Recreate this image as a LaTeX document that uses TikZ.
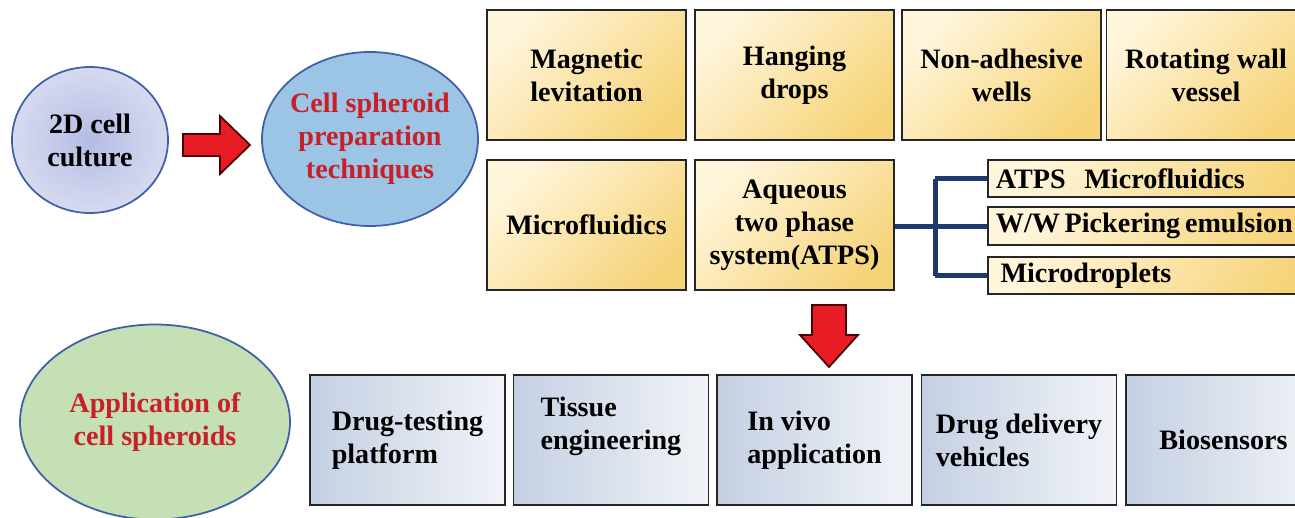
\documentclass[tikz,border=0pt]{standalone}
\usepackage{fontspec}
\setmainfont{Liberation Serif}
\usepackage{tikz}
\usetikzlibrary{shapes.geometric}

\definecolor{yelA}{RGB}{255,245,218}
\definecolor{yelB}{RGB}{246,212,122}
\definecolor{greyA}{RGB}{196,208,226}
\definecolor{greyB}{RGB}{241,243,248}
\definecolor{navy}{RGB}{31,56,110}
\definecolor{rimblue}{RGB}{62,96,168}
\definecolor{titlered}{RGB}{200,32,40}
\definecolor{arrowred}{RGB}{232,28,36}
\definecolor{lavA}{RGB}{180,188,228}
\definecolor{lavB}{RGB}{214,218,240}
\definecolor{skyblue}{RGB}{156,196,228}
\definecolor{sage}{RGB}{196,224,180}

\begin{document}
\begin{tikzpicture}[x=0.2mm, y=-0.2mm,
    every node/.style={font=\fontsize{16}{18.7}\selectfont\bfseries},
    yelbox/.style={draw=black!85, line width=1pt, top color=yelA, bottom color=yelB, shading angle=45,
                   minimum width=39.8mm, minimum height=26mm, align=center, inner sep=2pt},
    subbox/.style={draw=black!85, line width=1pt, top color=yelA, bottom color=yelB, shading angle=60,
                   anchor=west, text width=64mm, minimum height=7.5mm, inner xsep=1.6mm, align=left},
    greybox/.style={draw=black!85, line width=1pt, left color=greyA, right color=greyB,
                    minimum width=39mm, minimum height=26mm, align=left, inner sep=2pt},
    ballnode/.style={ellipse, draw=rimblue, line width=1pt, align=center},
    bus/.style={draw=navy, line width=1mm},
    redarrow/.style={fill=arrowred, draw=black!70!red, line width=1pt, line join=miter}]

  \useasboundingbox (0,0) rectangle (1295,517);
  \clip (0,0) rectangle (1295,517);
  \fill[white] (0,0) rectangle (1295,517);

  % round blobs
  \node[ballnode, inner color=lavA, outer color=lavB, minimum width=31.2mm, minimum height=29.2mm] (cult) at (90,140) {2D cell\\culture};
  \node[ballnode, fill=skyblue, text=titlered, inner sep=-4pt, minimum width=43.2mm, minimum height=34.8mm] (prep) at (370,139) {Cell spheroid\\preparation\\techniques};
  \node[ballnode, fill=sage, text=titlered, minimum width=54mm, minimum height=39mm] (appl) at (155,422) {Application of\\cell spheroids};

  % techniques
  \node[yelbox] (magn) at (586.5,75) {Magnetic\\levitation};
  \node[yelbox] (hang) at (794.5,75) {Hanging\\drops};
  \node[yelbox] (nonad) at (1001.5,75) {Non-adhesive\\wells};
  \node[yelbox] (rotw) at (1206,75) {Rotating wall\\vessel};
  \node[yelbox] (mflu) at (586.5,225) {Microfluidics};
  \node[yelbox] (atps) at (794.5,225) {Aqueous\\two phase\\system(ATPS)};

  \node[subbox] (amf) at (987,178.5) {ATPS~ Microfluidics};
  \node[subbox] (wwp) at (987,226) {\spaceskip=0.17em W/W Pickering emulsion};
  \node[subbox] (mdr) at (987,275.5) {\,Microdroplets};

  % applications
  \node[greybox] (drt) at (407.5,440) {Drug-testing\\platform};
  \node[greybox] (tis) at (611,440) {Tissue\\engineering\\\mbox{}};
  \node[greybox] (ivv) at (814.5,440) {In vivo\\application};
  \node[greybox] (ddv) at (1019,440) {Drug delivery\\vehicles};
  \node[greybox] (bio) at (1223.5,440) {Biosensors};

  % ATPS branches
  \coordinate (jn) at (935,226);
  \draw[bus] (atps.east |- jn) -- (jn);
  \draw[bus] (jn |- amf.west) -- (jn |- mdr.west);
  \draw[bus] (jn |- amf.west) -- (amf.west);
  \draw[bus] (jn) -- (wwp.west);
  \draw[bus] (jn |- mdr.west) -- (mdr.west);

  % block arrows
  \draw[redarrow, shift={(216,145)}] (-33,-11) -- (4,-11) -- (4,-29) -- (34,0) -- (4,29) -- (4,11) -- (-33,11) -- cycle;
  \draw[redarrow, shift={(829,336)}] (-17,-31) -- (17,-31) -- (17,-1) -- (29,-1) -- (0,31) -- (-29,-1) -- (-17,-1) -- cycle;

\end{tikzpicture}
\end{document}
